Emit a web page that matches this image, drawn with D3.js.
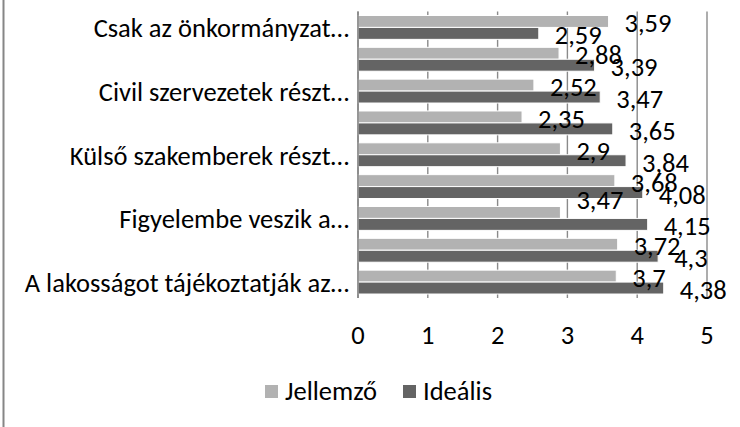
<!DOCTYPE html>
<html>
<head>
<meta charset="utf-8">
<script src="https://cdn.jsdelivr.net/npm/d3@7"></script>
<style>
  body { margin: 0; background: #fff; }
  svg { display: block; font-family: Carlito, Lato, "Open Sans", sans-serif; }
</style>
</head>
<body>
<div id="chart"></div>
<script>
// Kategóriák (felülről lefelé), csak minden második felirat látszik
const categories = [
  "Csak az önkormányzat…", "c2", "Civil szervezetek részt…", "c4",
  "Külső szakemberek részt…", "c6", "Figyelembe veszik a…", "c8",
  "A lakosságot tájékoztatják az…"
];
const shownLabels = [true, false, true, false, true, false, true, false, true];

const jellemzo = [3.59, 2.88, 2.52, 2.35, 2.9, 3.68, 2.9, 3.72, 3.7];
const idealis  = [2.59, 3.39, 3.47, 3.65, 3.84, 4.08, 4.15, 4.3, 4.38];

// Adatfeliratok, ahogy a képen szerepelnek
const jellemzoLabels = ["3,59", "2,88", "2,52", "2,35", "2,9", "3,68", "3,47", "3,72", "3,7"];
const idealisLabels  = ["2,59", "3,39", "3,47", "3,65", "3,84", "4,08", "4,15", "4,3", "4,38"];

const xTicks = [0, 1, 2, 3, 4, 5];
const seriesNames = ["Jellemző", "Ideális"];
const colors = ["#b2b2b2", "#646464"];

// kézzel elmozdított felirat (Jellemző, 7. sor)
const movedLabel = { series: 0, index: 6, dy: -14 };

const width = 740, height = 427;
const plot = { left: 358, right: 707, top: 11.5, bottom: 298 };
const fontSize = "26.5px";

const svg = d3.select("#chart").append("svg")
    .attr("width", width)
    .attr("height", height);

// Bal oldali keretvonal
svg.append("line")
    .attr("x1", 3.5).attr("x2", 3.5)
    .attr("y1", 0).attr("y2", height)
    .attr("stroke", "#868686")
    .attr("stroke-width", 2);

const x = d3.scaleLinear()
    .domain([0, 5])
    .range([plot.left, plot.right]);

const y = d3.scaleBand()
    .domain(d3.range(categories.length))
    .range([plot.top, plot.bottom])
    .paddingInner(0.25)
    .paddingOuter(0.125);

const ySub = d3.scaleBand()
    .domain([0, 1])
    .range([0, y.bandwidth()]);

// Rácsvonalak
svg.append("g")
    .selectAll("line")
    .data(xTicks)
    .join("line")
    .attr("x1", d => x(d)).attr("x2", d => x(d))
    .attr("y1", plot.top).attr("y2", plot.bottom)
    .attr("stroke", "#8a8a8a")
    .attr("stroke-width", 1.4);

// Oszlopok
const rows = categories.map((c, i) => ({
  i: i,
  values: [jellemzo[i], idealis[i]],
  labels: [jellemzoLabels[i], idealisLabels[i]]
}));

const groups = svg.append("g")
    .selectAll("g")
    .data(rows)
    .join("g")
    .attr("transform", d => `translate(0,${y(d.i)})`);

groups.selectAll("rect")
    .data(d => d.values.map((v, s) => ({ v, s })))
    .join("rect")
    .attr("x", x(0))
    .attr("y", d => ySub(d.s))
    .attr("width", d => x(d.v) - x(0))
    .attr("height", ySub.bandwidth())
    .attr("fill", d => colors[d.s])
    .attr("stroke", "#fff")
    .attr("stroke-width", 1);

// Adatfeliratok
svg.append("g")
    .selectAll("text")
    .data(rows.flatMap(d => d.values.map((v, s) => ({ i: d.i, v, s, label: d.labels[s] }))))
    .join("text")
    .attr("x", d => x(d.v) + 16)
    .attr("y", d => {
      let yy = y(d.i) + ySub(d.s) + ySub.bandwidth() / 2 + 2;
      if (d.s === movedLabel.series && d.i === movedLabel.index) yy += movedLabel.dy;
      return yy;
    })
    .attr("dominant-baseline", "central")
    .attr("font-size", fontSize)
    .attr("fill", "#000")
    .text(d => d.label);

// Függőleges tengelyvonal
svg.append("line")
    .attr("x1", x(0)).attr("x2", x(0))
    .attr("y1", plot.top).attr("y2", plot.bottom)
    .attr("stroke", "#868686")
    .attr("stroke-width", 1.6);

// Kategória feliratok
svg.append("g")
    .selectAll("text")
    .data(d3.range(categories.length).filter(i => shownLabels[i]))
    .join("text")
    .attr("x", plot.left - 9)
    .attr("y", i => y(i) + y.bandwidth() / 2 + 1)
    .attr("text-anchor", "end")
    .attr("dominant-baseline", "central")
    .attr("font-size", fontSize)
    .attr("fill", "#000")
    .text(i => categories[i]);

// X tengely feliratok
svg.append("g")
    .selectAll("text")
    .data(xTicks)
    .join("text")
    .attr("x", d => x(d))
    .attr("y", 335)
    .attr("text-anchor", "middle")
    .attr("dominant-baseline", "central")
    .attr("font-size", fontSize)
    .attr("fill", "#000")
    .text(d => d);

// Jelmagyarázat
const legend = svg.append("g");
const legendX = [265, 403];
seriesNames.forEach((name, s) => {
  legend.append("rect")
      .attr("x", legendX[s])
      .attr("y", 385)
      .attr("width", 13)
      .attr("height", 13)
      .attr("fill", colors[s]);
  legend.append("text")
      .attr("x", legendX[s] + 20)
      .attr("y", 391)
      .attr("dominant-baseline", "central")
      .attr("font-size", fontSize)
      .attr("fill", "#000")
      .text(name);
});
</script>
</body>
</html>
